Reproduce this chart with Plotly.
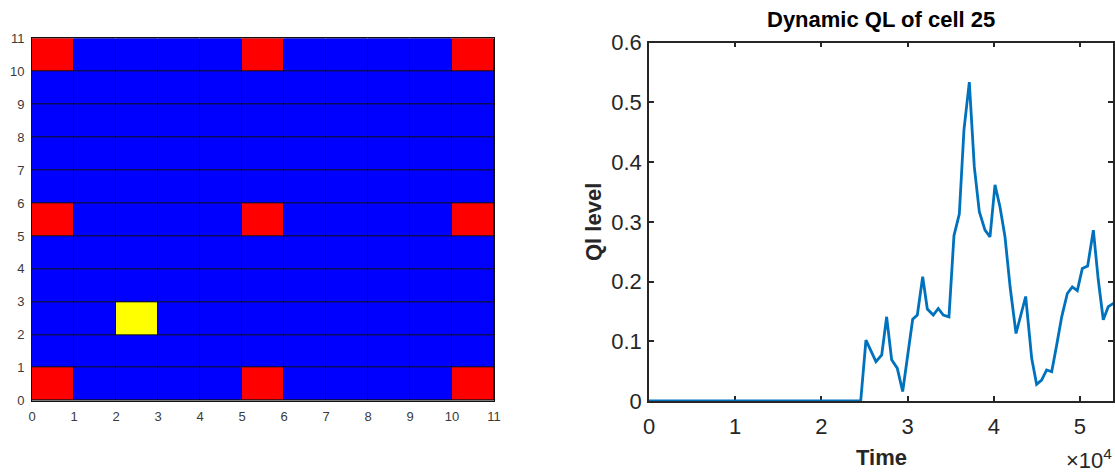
import plotly.graph_objects as go

# ---------------- data ----------------
grid_size = 11
red_cells = [(0, 0), (5, 0), (10, 0), (0, 5), (5, 5), (10, 5), (0, 10), (5, 10), (10, 10)]
yellow_cells = [(2, 2)]
grid_ticks = list(range(0, 12))

time = [0, 24560, 25170, 26330, 27000, 27570, 28150, 28800, 29430, 30080, 30590,
        31130, 31750, 32290, 32980, 33560, 34140, 34800, 35380, 36000, 36540,
        37160, 37740, 38320, 38980, 39560, 40140, 40720, 41300, 41900, 42580,
        43700, 44400, 44970, 45550, 46130, 46720, 47300, 47880, 48530, 49110,
        49690, 50270, 50890, 51550, 52120, 52700, 53280, 53940]
ql_level = [0, 0, 0.102, 0.066, 0.077, 0.141, 0.069, 0.055, 0.016, 0.080, 0.137,
            0.144, 0.208, 0.154, 0.144, 0.155, 0.144, 0.141, 0.277, 0.313, 0.454,
            0.534, 0.392, 0.317, 0.286, 0.275, 0.362, 0.325, 0.275, 0.190, 0.113,
            0.175, 0.071, 0.028, 0.035, 0.052, 0.049, 0.094, 0.141, 0.180, 0.191,
            0.185, 0.222, 0.226, 0.286, 0.203, 0.136, 0.158, 0.164]
time_tickvals = [0, 10000, 20000, 30000, 40000, 50000]
time_ticktext = ["0", "1", "2", "3", "4", "5"]
ql_tickvals = [0, 0.1, 0.2, 0.3, 0.4, 0.5, 0.6]
ql_ticktext = ["0", "0.1", "0.2", "0.3", "0.4", "0.5", "0.6"]

# ---------------- build grid matrix ----------------
z = [[0] * grid_size for _ in range(grid_size)]
for (cx, cy) in red_cells:
    z[cy][cx] = 1
for (cx, cy) in yellow_cells:
    z[cy][cx] = 2
centers = [i + 0.5 for i in range(grid_size)]

W, H = 1115, 472
FONT = "Arial, Liberation Sans, Helvetica, sans-serif"

fig = go.Figure()

fig.add_trace(go.Heatmap(
    x=centers, y=centers, z=z, zmin=0, zmax=2,
    colorscale=[[0, "#0000FF"], [0.5, "#FF0000"], [1, "#FFFF00"]],
    showscale=False, xgap=1, ygap=1, hoverinfo="skip",
    xaxis="x", yaxis="y"))

fig.add_trace(go.Scatter(
    x=time, y=ql_level, mode="lines",
    line=dict(color="#0072BD", width=2.8),
    xaxis="x2", yaxis="y2", showlegend=False, cliponaxis=True))

# black backdrop for grid lines
fig.add_shape(type="rect", xref="x", yref="y", x0=0, y0=0, x1=grid_size, y1=grid_size,
              fillcolor="#111111", line=dict(width=0), layer="below")

def px_x(p):
    return p / W

def px_y(p):
    return 1 - p / H

fig.update_layout(
    width=W, height=H,
    margin=dict(l=0, r=0, t=0, b=0),
    paper_bgcolor="white", plot_bgcolor="white",
    showlegend=False,
    xaxis=dict(domain=[px_x(32), px_x(494)], range=[0, grid_size],
               tickvals=grid_ticks, ticks="", showgrid=False, zeroline=False,
               showline=True, linecolor="#111111", linewidth=1, mirror=True,
               tickfont=dict(family=FONT, size=13, color="#3a3a3a"),
               ticklabelstandoff=4, anchor="y", automargin=False),
    yaxis=dict(domain=[px_y(400.7), px_y(38.3)], range=[0, grid_size],
               tickvals=grid_ticks, ticks="", showgrid=False, zeroline=False,
               showline=True, linecolor="#111111", linewidth=1, mirror=True,
               tickfont=dict(family=FONT, size=13, color="#3a3a3a"),
               ticklabelstandoff=4, anchor="x", automargin=False),
    xaxis2=dict(domain=[px_x(649), px_x(1113)], range=[0, 53830],
                tickvals=time_tickvals, ticktext=time_ticktext,
                ticks="inside", ticklen=5, tickwidth=1.5, tickcolor="#262626",
                showline=True, linecolor="#262626", linewidth=1.5, mirror="ticks",
                showgrid=False, zeroline=False, layer="below traces",
                tickfont=dict(family=FONT, size=22, color="#262626"),
                ticklabelstandoff=5, anchor="y2", automargin=False),
    yaxis2=dict(domain=[px_y(401), px_y(42.7)], range=[0, 0.6],
                tickvals=ql_tickvals, ticktext=ql_ticktext,
                ticks="inside", ticklen=5, tickwidth=1.5, tickcolor="#262626",
                showline=True, linecolor="#262626", linewidth=1.5, mirror="ticks",
                showgrid=False, zeroline=False, layer="below traces",
                tickfont=dict(family=FONT, size=22, color="#262626"),
                ticklabelstandoff=1, anchor="x2", automargin=False),
    annotations=[
        dict(text="<b>Dynamic QL of cell 25</b>", xref="paper", yref="paper",
             x=px_x(881), y=px_y(19), xanchor="center", yanchor="middle",
             showarrow=False, font=dict(family=FONT, size=22, color="#000000")),
        dict(text="<b>Ql level</b>", xref="paper", yref="paper",
             x=px_x(593), y=px_y(222), xanchor="center", yanchor="middle",
             textangle=-90, showarrow=False,
             font=dict(family=FONT, size=22, color="#262626")),
        dict(text="<b>Time</b>", xref="paper", yref="paper",
             x=px_x(881), y=px_y(457), xanchor="center", yanchor="middle",
             showarrow=False, font=dict(family=FONT, size=22, color="#262626")),
        dict(text="\u00d710<sup>4</sup>", xref="paper", yref="paper",
             x=px_x(1114), y=px_y(459), xanchor="right", yanchor="middle",
             showarrow=False, font=dict(family=FONT, size=22, color="#262626")),
    ],
)

fig.write_html(
    "out.html",
    config={"displayModeBar": False},
    post_script="document.body.style.margin='0';document.body.style.padding='0';"
                "document.body.style.overflow='hidden';",
)
